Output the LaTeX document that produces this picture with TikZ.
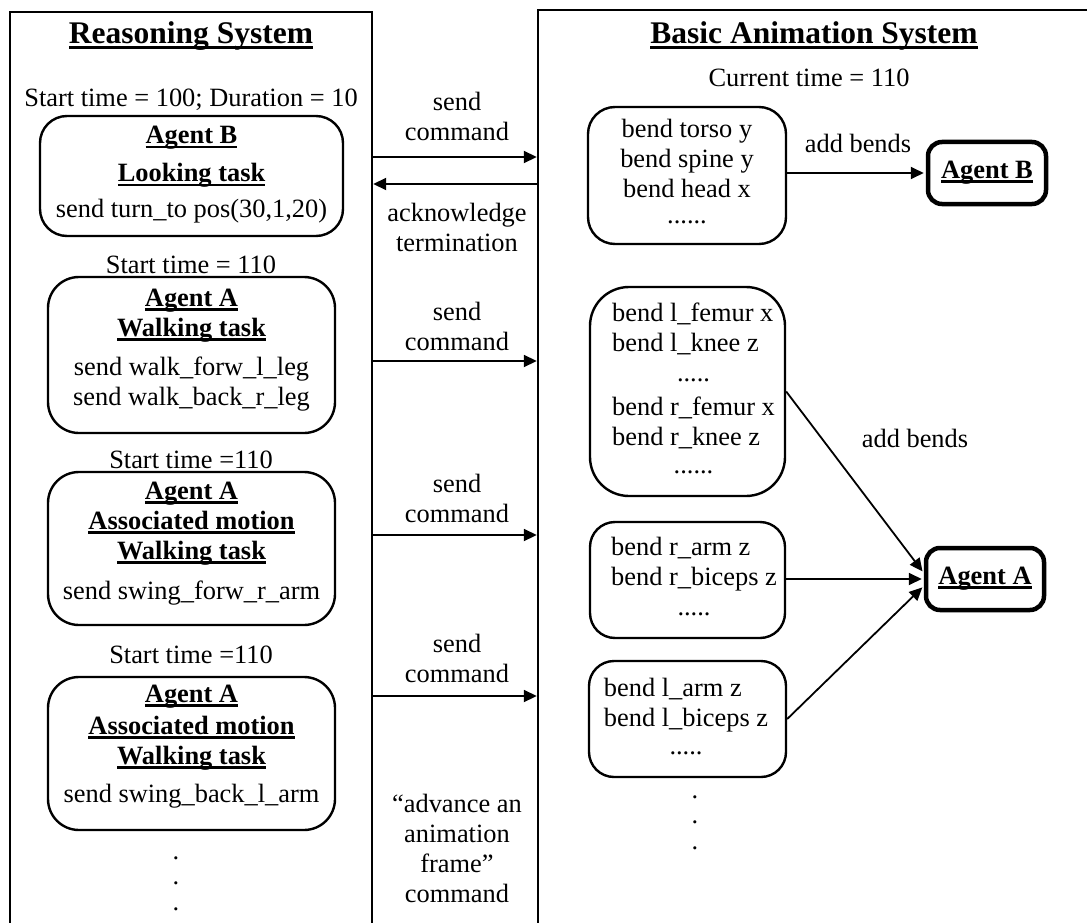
\documentclass[tikz,border=0pt]{standalone}
\usepackage{fontspec}
\setmainfont{Liberation Serif}
\usetikzlibrary{arrows.meta}
\newcommand\ulb[1]{\setbox0=\hbox{#1}\leavevmode\rlap{\rule[-4pt]{\wd0}{2.4pt}}\box0}
\newcommand\ult[1]{\setbox0=\hbox{#1}\leavevmode\rlap{\rule[-6pt]{\wd0}{3pt}}\box0}
\begin{document}
\begin{tikzpicture}[x=1pt,y=-1pt,
  every node/.style={font=\fontsize{26.4}{30}\selectfont, inner sep=0pt},
  frame/.style={draw, line width=2.4pt, rectangle},
  rbox/.style={draw, line width=2.4pt, rectangle, rounded corners=#1},
  rbox/.default=30pt,
  agent/.style={draw, line width=4.5pt, rectangle, rounded corners=14pt, minimum width=118pt, minimum height=62pt},
  txt/.style={align=center},
  dotcol/.style={align=center, font=\fontsize{26.4}{25.5}\selectfont},
  arr/.style={line width=1.8pt, -{Triangle[length=13pt,width=12pt]}},
  ttl/.style={font=\fontsize{31.5}{36}\selectfont\bfseries},
]
\useasboundingbox (0,0) rectangle (1087,923);
\clip (0,0) rectangle (1087,923);

% frames
\node[frame, minimum width=362pt, minimum height=990pt] (LS) at (191,507) {};
\node[frame, minimum width=700pt, minimum height=990pt] (RS) at (888,505) {};
\node[ttl, anchor=base] (LStitle) at (191,43.5) {\ult{Reasoning System}};
\node[ttl, anchor=base] (RStitle) at (814,43.5) {\ult{Basic Animation System}};

% left column
\node (st1) at (191,100) {Start time = 100; Duration = 10};
\node[rbox=27pt, minimum width=303pt, minimum height=120pt] (b1) at (191.5,176) {};
\node[txt] (b1t) at (191.5,175) {\textbf{\ulb{Agent B}}\\[8pt]\textbf{\ulb{Looking task}}\\[6pt]send turn\_to pos(30,1,20)};

\node (st2) at (191,265) {Start time = 110};
\node[rbox=31pt, minimum width=287pt, minimum height=156pt] (b2) at (191.5,355) {};
\node[txt] (b2t) at (191.5,350.5) {\textbf{\ulb{Agent A}}\\\textbf{\ulb{Walking task}}\\[9pt]send walk\_forw\_l\_leg\\send walk\_back\_r\_leg};

\node (st3) at (191,460) {Start time =110};
\node[rbox=31pt, minimum width=287pt, minimum height=153pt] (b3) at (191.5,548.5) {};
\node[txt] (b3t) at (191.5,544) {\textbf{\ulb{Agent A}}\\\textbf{\ulb{Associated motion}}\\\textbf{\ulb{Walking task}}\\[10pt]send swing\_forw\_r\_arm};

\node (st4) at (191,655) {Start time =110};
\node[rbox=31pt, minimum width=287pt, minimum height=153pt] (b4) at (191.5,753.5) {};
\node[txt] (b4t) at (191.5,747) {\textbf{\ulb{Agent A}}\\[2pt]\textbf{\ulb{Associated motion}}\\\textbf{\ulb{Walking task}}\\[8pt]send swing\_back\_l\_arm};

\node[dotcol] (ldots) at (176,883.5) {.\\.\\.};

% middle arrows
\coordinate (y1) at (455,157);
\coordinate (y2) at (455,184);
\coordinate (y3) at (455,361);
\coordinate (y4) at (455,535);
\coordinate (y5) at (455,696);
\draw[arr] (LS.east |- y1) -- (RS.west |- y1);
\draw[arr] (RS.west |- y2) -- (LS.east |- y2);
\draw[arr] (LS.east |- y3) -- (RS.west |- y3);
\draw[arr] (LS.east |- y4) -- (RS.west |- y4);
\draw[arr] (LS.east |- y5) -- (RS.west |- y5);

\node[txt] (m1) at (457,116.5) {send\\command};
\node[txt] (m2) at (457,227) {acknowledge\\termination};
\node[txt] (m3) at (457,326) {send\\command};
\node[txt] (m4) at (457,498) {send\\command};
\node[txt] (m5) at (457,658) {send\\command};
\node[txt] (m6) at (457,848) {“advance an\\animation\\frame”\\command};

% right column
\node (ct) at (809,78) {Current time = 110};

\node[rbox=27pt, minimum width=198pt, minimum height=137pt] (rB) at (687,175.5) {};
\node[txt] (rBt) at (687,172) {bend torso y\\bend spine y\\bend head x\\[-4pt]......};
\node[agent] (agB) at (987,173) {\textbf{\ulb{Agent B}}};
\draw[arr, shorten >=2pt] (rB.east |- agB.west) -- (agB.west);
\node (addB) at (858,143) {add bends};

\node[rbox=39pt, minimum width=195pt, minimum height=209pt] (rL) at (687.5,391.5) {};
\node (rLt) at (693.5,391.5) {\begin{tabular}{@{}l@{}}bend l\_femur x\\ bend l\_knee z\\ \multicolumn{1}{@{}c@{}}{.....}\\[4pt] bend r\_femur x\\ bend r\_knee z\\[-2pt] \multicolumn{1}{@{}c@{}}{......}\end{tabular}};

\node[rbox=25pt, minimum width=195pt, minimum height=116pt] (rR) at (687.5,580) {};
\node (rRt) at (694,579) {\begin{tabular}{@{}l@{}}bend r\_arm z\\ bend r\_biceps z\\ \multicolumn{1}{@{}c@{}}{.....}\end{tabular}};

\node[rbox=25pt, minimum width=197pt, minimum height=116pt] (rA) at (687.5,719) {};
\node (rAt) at (686,719) {\begin{tabular}{@{}l@{}}bend l\_arm z\\ bend l\_biceps z\\[-2pt] \multicolumn{1}{@{}c@{}}{.....}\end{tabular}};

\node[dotcol] (rdots) at (695,822.5) {.\\.\\.};

\node[agent] (agA) at (985,579) {\textbf{\ulb{Agent A}}};
\draw[arr, shorten >=2pt] (rL.east) -- ([yshift=6pt]agA.west);
\draw[arr, shorten >=2pt] (rR.east |- agA.west) -- (agA.west);
\draw[arr, shorten >=2pt] (rA.east) -- ([yshift=-7pt]agA.west);
\node (addA) at (915,438) {add bends};
\end{tikzpicture}
\end{document}
